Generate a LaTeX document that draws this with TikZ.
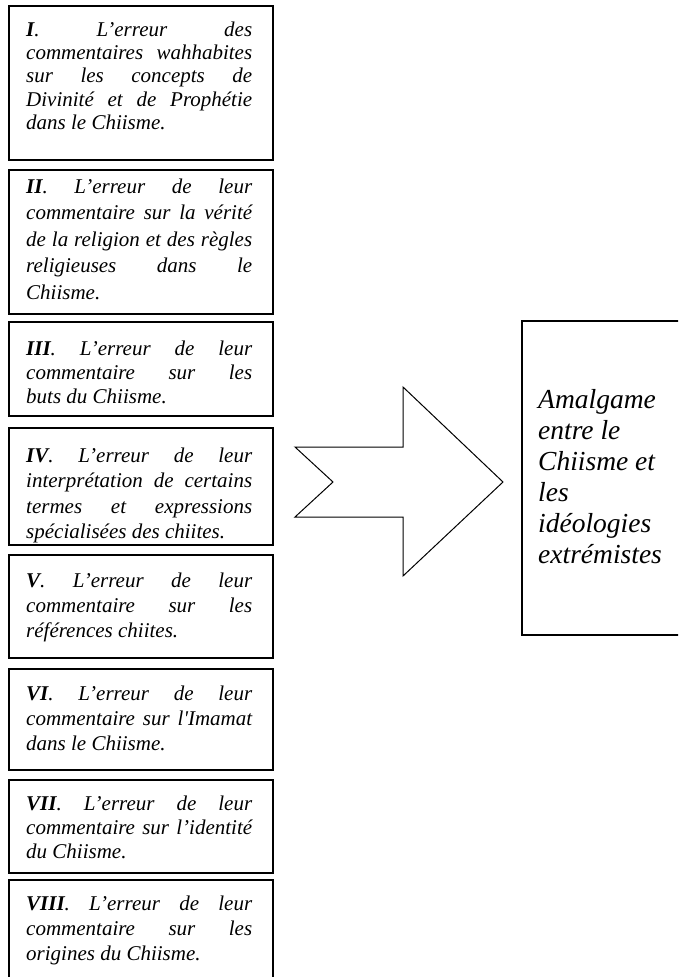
\documentclass[tikz,border=0pt]{standalone}
\usepackage{fontspec}
\setmainfont{Liberation Serif}
\newlength\TW
\setlength\TW{226pt}
\newcommand\jl[1]{\makebox[\TW][s]{#1}\\}
\newcommand\bx[2]{\parbox[t]{\TW}{\fontsize{21pt}{#1}\selectfont\itshape #2}}
\begin{document}
\begin{tikzpicture}[x=1pt,y=-1pt,
  box/.style={draw=black, line width=1.6pt, inner sep=0pt, anchor=north west, minimum width=264pt},
  txt/.style={anchor=base west, inner sep=0pt}]
\useasboundingbox (0,0) rectangle (678,977);
\fill[white] (0,0) rectangle (678,977);
\clip (0,0) rectangle (678,977);

% left boxes
\node[box, minimum height=154pt] (b1) at (8,5) {};
\node[box, minimum height=144pt] (b2) at (8,169) {};
\node[box, minimum height=94pt] (b3) at (8,321) {};
\node[box, minimum height=117pt] (b4) at (8,427) {};
\node[box, minimum height=103pt] (b5) at (8,554) {};
\node[box, minimum height=101pt] (b6) at (8,668) {};
\node[box, minimum height=93pt] (b7) at (8,779) {};
\node[box, minimum height=130pt] (b8) at (8,879) {};

\node[txt] (t1) at (26,36) {\bx{23.4pt}{\jl{\textbf{I}. L’erreur des}\jl{commentaires wahhabites}\jl{sur les concepts de}\jl{Divinité et de Prophétie}dans le Chiisme.}};
\node[txt] (t2) at (26,193) {\bx{26.5pt}{\jl{\textbf{II}. L’erreur de leur}\jl{commentaire sur la vérité}\jl{de la religion et des règles}\jl{religieuses dans le}Chiisme.}};
\node[txt] (t3) at (26,355) {\bx{24pt}{\jl{\textbf{III}. L’erreur de leur}\jl{commentaire sur les}buts du Chiisme.}};
\begin{scope}
\clip (8,427) rectangle (272,544);
\node[txt] (t4) at (26,462) {\bx{25.5pt}{\jl{\textbf{IV}. L’erreur de leur}\jl{interprétation de certains}\jl{termes et expressions}spécialisées des chiites.}};
\end{scope}
\node[txt] (t5) at (26,587) {\bx{25pt}{\jl{\textbf{V}. L’erreur de leur}\jl{commentaire sur les}références chiites.}};
\node[txt] (t6) at (26,700) {\bx{25pt}{\jl{\textbf{VI}. L’erreur de leur}\jl{commentaire sur l\textquotesingle Imamat}dans le Chiisme.}};
\node[txt] (t7) at (26,810) {\bx{24pt}{\jl{\textbf{VII}. L’erreur de leur}\jl{commentaire sur l’identité}du Chiisme.}};
\node[txt] (t8) at (26,910) {\bx{25pt}{\jl{\textbf{VIII}. L’erreur de leur}\jl{commentaire sur les}origines du Chiisme.}};

% big arrow
\draw[line width=1pt, line join=miter] (295,447) -- (403,447) -- (403,387) -- (503,482)
  -- (403,576) -- (403,517) -- (295,517) -- (333,482) -- cycle;

% right box
\node[draw=black, line width=1.5pt, inner sep=0pt, anchor=north west,
  minimum width=200pt, minimum height=314pt] (rb) at (521,320) {};
\node[txt] (rt) at (538,408) {\parbox[t]{160pt}{\raggedright\fontsize{27.5pt}{31pt}\selectfont\itshape
  Amalgame\\entre le\\Chiisme et\\les\\idéologies\\extrémistes}};
\end{tikzpicture}
\end{document}
